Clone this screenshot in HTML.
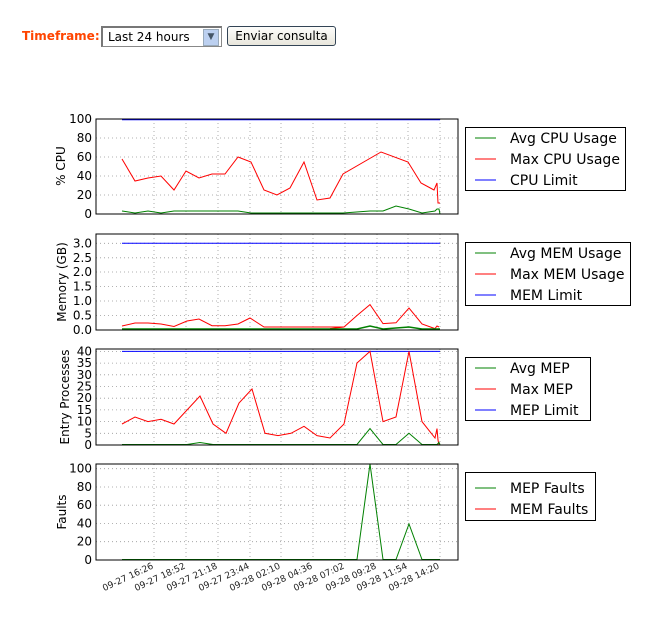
<!DOCTYPE html>
<html><head><meta charset="utf-8"><style>
body{margin:0;background:#fff;width:654px;height:635px;overflow:hidden;position:relative;font-family:"Liberation Sans","DejaVu Sans",sans-serif}
.tf{position:absolute;left:22px;top:29px;font-size:12px;font-weight:bold;color:#ff4400;font-family:"DejaVu Sans",sans-serif}
.sel{position:absolute;left:101px;top:26px;width:118px;height:18px;border:1px solid #888;border-left:2px solid #777;border-top:2px solid #777;background:#fff;font-size:12px;font-family:"DejaVu Sans",sans-serif}
.sel span{position:absolute;left:5px;top:2px}
.sel i{position:absolute;right:2px;top:1px;width:14px;height:15px;background:#bcd0f0;border:1px solid #9ab;color:#456;font-style:normal;font-size:9px;text-align:center;line-height:15px}
.btn{position:absolute;left:227px;top:26px;width:107px;height:18px;border:1px solid #345;border-radius:3px;background:linear-gradient(#fdfdfb,#e8e6dc);font-size:12px;text-align:center;line-height:18px;font-family:"DejaVu Sans",sans-serif}
svg{position:absolute;left:0;top:0}
</style></head><body>
<div class="tf">Timeframe:</div>
<div class="sel"><span>Last 24 hours</span><i>&#9660;</i></div>
<div class="btn">Enviar consulta</div>
<svg width="654" height="635" font-family="DejaVu Sans, sans-serif">
<defs>
<g id="vg" stroke="#999" stroke-width="0.8" stroke-dasharray="1,3">
<line x1="154" x2="154" y1="0" y2="96"/><line x1="186" x2="186" y1="0" y2="96"/><line x1="218" x2="218" y1="0" y2="96"/><line x1="250" x2="250" y1="0" y2="96"/><line x1="281" x2="281" y1="0" y2="96"/><line x1="313" x2="313" y1="0" y2="96"/><line x1="345" x2="345" y1="0" y2="96"/><line x1="377" x2="377" y1="0" y2="96"/><line x1="408" x2="408" y1="0" y2="96"/><line x1="440" x2="440" y1="0" y2="96"/>
</g>
</defs>
<!-- Panel 1 -->
<use href="#vg" y="119"/>
<g stroke="#999" stroke-width="0.8" stroke-dasharray="1,3">
<line x1="96" x2="458" y1="195" y2="195"/><line x1="96" x2="458" y1="176" y2="176"/><line x1="96" x2="458" y1="157" y2="157"/><line x1="96" x2="458" y1="138" y2="138"/>
</g>
<line x1="122" x2="440" y1="119.5" y2="119.5" stroke="#0000ff" stroke-width="1.5"/>
<polyline fill="none" stroke="#ff0000" stroke-width="1" points="122,159 135,181 148,178 161,176 174,190 186,171 199,178 212,174 225,174 238,157 251,162 264,190 277,195 290,188 304,162 317,200 330,198 343,174 381,152 408,162 421,183 434,190 437,183 438,203 440,203"/>
<polyline fill="none" stroke="#008000" stroke-width="1" points="122,211 135,213 148,211 161,213 174,211 238,211 251,213 343,213 370,211 383,211 396,206 409,209 422,213 435,211 437,209 439,209 440,214"/>
<rect x="96" y="119" width="362" height="95" fill="none" stroke="#000" stroke-width="1"/>
<g font-size="12" text-anchor="end" fill="#000">
<text x="92" y="218">0</text><text x="92" y="199">20</text><text x="92" y="180">40</text><text x="92" y="161">60</text><text x="92" y="142">80</text><text x="92" y="123">100</text>
</g>
<text transform="translate(65,166) rotate(-90)" font-size="12" text-anchor="middle">% CPU</text>
<!-- Panel 2 -->
<use href="#vg" y="234"/>
<g stroke="#999" stroke-width="0.8" stroke-dasharray="1,3">
<line x1="96" x2="458" y1="315.5" y2="315.5"/><line x1="96" x2="458" y1="301" y2="301"/><line x1="96" x2="458" y1="286.5" y2="286.5"/><line x1="96" x2="458" y1="272" y2="272"/><line x1="96" x2="458" y1="257.8" y2="257.8"/><line x1="96" x2="458" y1="243.3" y2="243.3"/>
</g>
<line x1="122" x2="440" y1="243.3" y2="243.3" stroke="#0000ff" stroke-width="1"/>
<polyline fill="none" stroke="#ff0000" stroke-width="1" points="122,326 135,323 148,323 161,324 174,326.5 187,321 199,319 212,325.7 225,325.7 238,324 250,318 264,327 344,327 330,328.6 344,327 357,315.5 370,304.6 383,323.6 396,322.8 409,308 422,324 435,328.6 437,326 439,327"/>
<polyline fill="none" stroke="#008000" stroke-width="1.5" points="122,329 357,329 370,326 383,329 409,327 422,329 440,329"/>
<rect x="96" y="234" width="362" height="96" fill="none" stroke="#000" stroke-width="1"/>
<g font-size="12" text-anchor="end">
<text x="92" y="334">0.0</text><text x="92" y="319.5">0.5</text><text x="92" y="305">1.0</text><text x="92" y="290.5">1.5</text><text x="92" y="276">2.0</text><text x="92" y="261.8">2.5</text><text x="92" y="247.3">3.0</text>
</g>
<text transform="translate(66,282) rotate(-90)" font-size="12" text-anchor="middle">Memory (GB)</text>
<!-- Panel 3 -->
<use href="#vg" y="349"/>
<g stroke="#999" stroke-width="0.8" stroke-dasharray="1,3">
<line x1="96" x2="458" y1="433.3" y2="433.3"/><line x1="96" x2="458" y1="421.6" y2="421.6"/><line x1="96" x2="458" y1="409.9" y2="409.9"/><line x1="96" x2="458" y1="398.2" y2="398.2"/><line x1="96" x2="458" y1="386.5" y2="386.5"/><line x1="96" x2="458" y1="374.8" y2="374.8"/><line x1="96" x2="458" y1="363.1" y2="363.1"/><line x1="96" x2="458" y1="351.4" y2="351.4"/>
</g>
<line x1="122" x2="440" y1="351.4" y2="351.4" stroke="#0000ff" stroke-width="1"/>
<polyline fill="none" stroke="#ff0000" stroke-width="1" points="122,424 135,417 148,421.6 161,419.3 174,424 200,396 213,424 226,433.3 239,403 252,389 265,433.3 278,435.6 291,433.3 304,426.3 317,435.6 330,438 344,424 357,363 370,351.4 383,421.6 396,417 409,351.4 422,421.6 435,438 437,428.6 438,440 439,445"/>
<polyline fill="none" stroke="#008000" stroke-width="1" points="122,444.5 187,444.5 200,442.5 213,444.5 357,444.5 370,428.6 383,444.5 396,444.5 409,433.3 422,444.5 437,444.5 439,442.5 440,444.5"/>
<rect x="96" y="349" width="362" height="96" fill="none" stroke="#000" stroke-width="1"/>
<g font-size="12" text-anchor="end">
<text x="92" y="449">0</text><text x="92" y="437.3">5</text><text x="92" y="425.6">10</text><text x="92" y="413.9">15</text><text x="92" y="402.2">20</text><text x="92" y="390.5">25</text><text x="92" y="378.8">30</text><text x="92" y="367.1">35</text><text x="92" y="355.4">40</text>
</g>
<text transform="translate(69,397) rotate(-90)" font-size="12" text-anchor="middle">Entry Processes</text>
<!-- Panel 4 -->
<use href="#vg" y="464"/>
<g stroke="#999" stroke-width="0.8" stroke-dasharray="1,3">
<line x1="96" x2="458" y1="541.7" y2="541.7"/><line x1="96" x2="458" y1="523.5" y2="523.5"/><line x1="96" x2="458" y1="505.2" y2="505.2"/><line x1="96" x2="458" y1="487" y2="487"/><line x1="96" x2="458" y1="468.7" y2="468.7"/>
</g>
<polyline fill="none" stroke="#008000" stroke-width="1" points="122,559.5 357,559.5 370,464 383,559.5 396,559.5 409,524 422,559.5 440,559.5"/>
<rect x="96" y="464" width="362" height="96" fill="none" stroke="#000" stroke-width="1"/>
<g font-size="12" text-anchor="end">
<text x="92" y="564">0</text><text x="92" y="545.7">20</text><text x="92" y="527.5">40</text><text x="92" y="509.2">60</text><text x="92" y="491">80</text><text x="92" y="472.7">100</text>
</g>
<text transform="translate(66,512) rotate(-90)" font-size="12" text-anchor="middle">Faults</text>
<g font-size="9" text-anchor="end" fill="#222">
<text transform="translate(154,568) rotate(-25)">09-27 16:26</text>
<text transform="translate(186,568) rotate(-25)">09-27 18:52</text>
<text transform="translate(218,568) rotate(-25)">09-27 21:18</text>
<text transform="translate(250,568) rotate(-25)">09-27 23:44</text>
<text transform="translate(281,568) rotate(-25)">09-28 02:10</text>
<text transform="translate(313,568) rotate(-25)">09-28 04:36</text>
<text transform="translate(345,568) rotate(-25)">09-28 07:02</text>
<text transform="translate(377,568) rotate(-25)">09-28 09:28</text>
<text transform="translate(408,568) rotate(-25)">09-28 11:54</text>
<text transform="translate(440,568) rotate(-25)">09-28 14:20</text>
</g>
<!-- Legends -->
<g font-size="14" fill="#000">
<rect x="465.5" y="127.5" width="160" height="63" fill="#fff" stroke="#000"/>
<line x1="475" x2="496" y1="138" y2="138" stroke="#008000"/><text x="510" y="143">Avg CPU Usage</text>
<line x1="475" x2="496" y1="159" y2="159" stroke="#ff0000"/><text x="510" y="164">Max CPU Usage</text>
<line x1="475" x2="496" y1="180" y2="180" stroke="#0000ff"/><text x="510" y="185">CPU Limit</text>

<rect x="465.5" y="242.5" width="165" height="63" fill="#fff" stroke="#000"/>
<line x1="475" x2="496" y1="253" y2="253" stroke="#008000"/><text x="510" y="258">Avg MEM Usage</text>
<line x1="475" x2="496" y1="274" y2="274" stroke="#ff0000"/><text x="510" y="279">Max MEM Usage</text>
<line x1="475" x2="496" y1="295" y2="295" stroke="#0000ff"/><text x="510" y="300">MEM Limit</text>

<rect x="465.5" y="357.5" width="125" height="63" fill="#fff" stroke="#000"/>
<line x1="475" x2="496" y1="368" y2="368" stroke="#008000"/><text x="510" y="373">Avg MEP</text>
<line x1="475" x2="496" y1="389" y2="389" stroke="#ff0000"/><text x="510" y="394">Max MEP</text>
<line x1="475" x2="496" y1="410" y2="410" stroke="#0000ff"/><text x="510" y="415">MEP Limit</text>

<rect x="465.5" y="472.5" width="130" height="48" fill="#fff" stroke="#000"/>
<line x1="475" x2="496" y1="488" y2="488" stroke="#008000"/><text x="510" y="493">MEP Faults</text>
<line x1="475" x2="496" y1="509" y2="509" stroke="#ff0000"/><text x="510" y="514">MEM Faults</text>
</g>
</svg>
</body></html>
